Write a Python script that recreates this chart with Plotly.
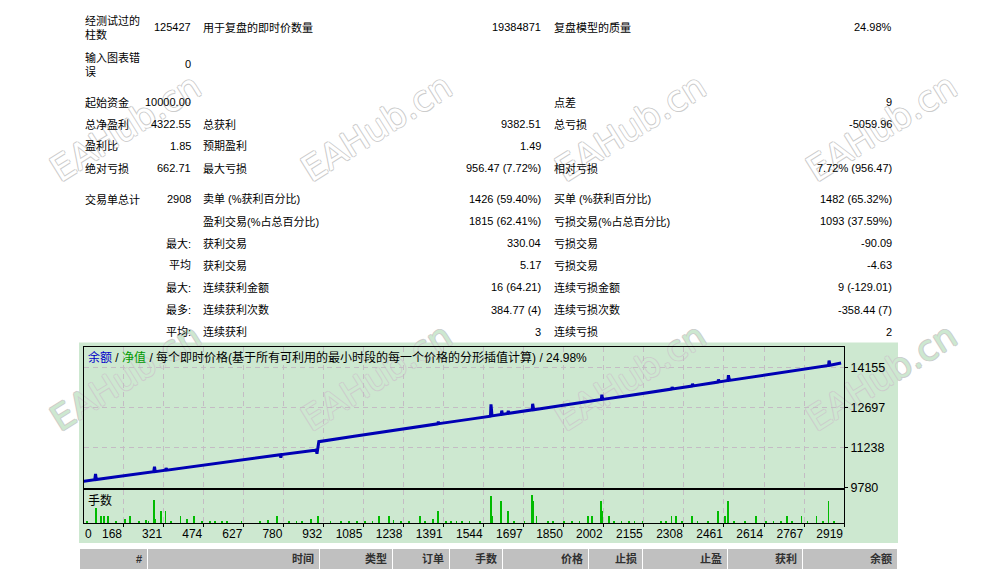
import plotly.graph_objects as go

W, H = 988, 575
FIG_H = 583  # page height used for the figure; positions below are in 575-px design units

# ---- report table (text) ----
report_rows = [
    ["经测试过的<br>柱数", "125427", "用于复盘的即时价数量", "19384871", "复盘模型的质量", "24.98%"],
    ["输入图表错<br>误", "0", "", "", "", ""],
    ["起始资金", "10000.00", "", "", "点差", "9"],
    ["总净盈利", "4322.55", "总获利", "9382.51", "总亏损", "-5059.96"],
    ["盈利比", "1.85", "预期盈利", "1.49", "", ""],
    ["绝对亏损", "662.71", "最大亏损", "956.47 (7.72%)", "相对亏损", "7.72% (956.47)"],
    ["交易单总计", "2908", "卖单 (%获利百分比)", "1426 (59.40%)", "买单 (%获利百分比)", "1482 (65.32%)"],
    ["", "", "盈利交易(%占总百分比)", "1815 (62.41%)", "亏损交易(%占总百分比)", "1093 (37.59%)"],
    ["", "最大:", "获利交易", "330.04", "亏损交易", "-90.09"],
    ["", "平均", "获利交易", "5.17", "亏损交易", "-4.63"],
    ["", "最大:", "连续获利金额", "16 (64.21)", "连续亏损金额", "9 (-129.01)"],
    ["", "最多:", "连续获利次数", "384.77 (4)", "连续亏损次数", "-358.44 (7)"],
    ["", "平均:", "连续获利", "3", "连续亏损", "2"],
]

header_cols = ["#", "时间", "类型", "订单", "手数", "价格", "止损", "止盈", "获利", "余额"]

chart_title = ('<span style="color:#0000C8">余额</span> / '
               '<span style="color:#009900">净值</span> / '
               '每个即时价格(基于所有可利用的最小时段的每一个价格的分形插值计算) / 24.98%')

# ---- balance curve (trade number, balance) ----
bal_trade = [0, 60, 63, 66, 150, 285, 288, 291, 330, 332, 335, 450, 600, 750, 768, 770, 773,
             900, 905, 908, 911, 915, 1050, 1200, 1350, 1369, 1371, 1373, 1500, 1570, 1572, 1576,
             1611, 1613, 1616, 1636, 1638, 1641, 1729, 1731, 1735, 1800, 1950, 1993, 1995, 1998,
             2100, 2250, 2261, 2263, 2266, 2339, 2341, 2344, 2400, 2438, 2440, 2443, 2476, 2478,
             2482, 2550, 2700, 2850, 2860, 2862, 2866, 2908]
bal_value = [10000, 10075, 10290, 10080, 10190, 10365, 10545, 10370, 10420, 10500, 10425, 10580,
             10770, 10960, 10985, 10880, 10990, 11150, 11160, 11020, 11170, 11460, 11655, 11870,
             12085, 12110, 12190, 12115, 12290, 12390, 12820, 12400, 12450, 12590, 12455, 12490,
             12580, 12495, 12620, 12840, 12625, 12720, 12935, 12995, 13170, 13000, 13145, 13360,
             13375, 13450, 13380, 13485, 13570, 13490, 13575, 13630, 13720, 13635, 13685, 13880,
             13690, 13790, 14005, 14220, 14235, 14410, 14240, 14322]

# ---- lots per trade ----
lot_trade = [66, 85, 96, 111, 175, 196, 285, 290, 312, 330, 387, 413, 438, 754, 886, 913, 1146,
             1184, 1301, 1352, 1369, 1572, 1576, 1611, 1636, 1729, 1733, 1746, 1942, 1958, 1993,
             1995, 2022, 2261, 2279, 2339, 2438, 2464, 2476, 2583, 2701, 2757, 2814, 2860,
             30, 140, 230, 255, 265, 350, 470, 500, 520, 545, 565, 620, 690, 720, 800, 830, 850,
             960, 1000, 1030, 1060, 1090, 1120, 1200, 1230, 1260, 1320, 1400, 1420, 1440, 1460,
             1490, 1530, 1660, 1700, 1790, 1810, 1850, 1880, 1910, 2040, 2070, 2100, 2120, 2150,
             2220, 2240, 2300, 2360, 2400, 2500, 2540, 2620, 2650, 2680, 2720, 2780, 2840, 2880]
lot_size = [0.28, 0.12, 0.12, 0.12, 0.07, 0.12, 0.42, 0.07, 0.22, 0.22, 0.12, 0.07, 0.12, 0.12,
            0.07, 0.12, 0.12, 0.12, 0.12, 0.07, 0.22, 0.50, 0.12, 0.40, 0.22, 0.51, 0.40, 0.12,
            0.12, 0.12, 0.40, 0.22, 0.12, 0.12, 0.12, 0.12, 0.22, 0.12, 0.40, 0.12, 0.12, 0.12,
            0.12, 0.40,
            0.04, 0.04, 0.03, 0.05, 0.04, 0.03, 0.04, 0.03, 0.04, 0.03, 0.04, 0.04, 0.03, 0.05,
            0.04, 0.03, 0.04, 0.04, 0.03, 0.04, 0.04, 0.03, 0.04, 0.05, 0.03, 0.04, 0.04, 0.03,
            0.04, 0.04, 0.03, 0.04, 0.04, 0.03, 0.04, 0.04, 0.03, 0.04, 0.04, 0.03, 0.04, 0.04,
            0.03, 0.04, 0.04, 0.03, 0.04, 0.04, 0.03, 0.04, 0.04, 0.03, 0.04, 0.04, 0.03, 0.04,
            0.04, 0.03, 0.04]

x_tick_labels = ["0", "168", "321", "474", "627", "780", "932", "1085", "1238", "1391", "1544",
                 "1697", "1850", "2002", "2155", "2308", "2461", "2614", "2767", "2919"]
y_tick_labels = ["9780", "11238", "12697", "14155"]


def px(x):
    return x / W


def py(y):
    return 1 - y / H


FONT = "Liberation Sans, Noto Sans CJK SC, sans-serif"
BG_GREEN = "#CDE8D0"
GRID = "#C4BCC4"

fig = go.Figure()
fig.add_trace(go.Scatter(x=bal_trade, y=bal_value, mode="lines", xaxis="x", yaxis="y",
                         line=dict(color="#0000B4", width=3), hoverinfo="skip"))
fig.add_trace(go.Bar(x=lot_trade, y=lot_size, xaxis="x2", yaxis="y2", width=3,
                     marker=dict(color="#00BB00", line=dict(width=0)), hoverinfo="skip"))

x_vals = [int(v) for v in x_tick_labels]
x_range = [19, 2919]
common_x = dict(range=x_range, domain=[px(84), px(844)], showgrid=True, gridcolor=GRID,
                griddash="5px,4px", gridwidth=1, zeroline=False, showline=True, mirror=True,
                linecolor="black", linewidth=1)

fig.update_layout(
    width=W, height=FIG_H, margin=dict(l=0, r=0, t=0, b=0),
    paper_bgcolor="white", plot_bgcolor="rgba(0,0,0,0)",
    showlegend=False, bargap=0,
    font=dict(family=FONT, size=11, color="black"),
    xaxis=dict(anchor="y", tickvals=x_vals[1:], showticklabels=False, ticks="", **common_x),
    yaxis=dict(anchor="x", domain=[py(487), py(346)], range=[9780, 14921], side="right",
               tickvals=[int(v) for v in y_tick_labels], ticktext=y_tick_labels,
               ticks="outside", ticklen=3, tickcolor="black",
               tickfont=dict(size=12.5, family=FONT), showgrid=True, gridcolor=GRID,
               griddash="5px,4px", zeroline=False, showline=True, mirror=True,
               linecolor="black", linewidth=1),
    xaxis2=dict(anchor="y2", tickvals=x_vals[1:], ticktext=x_tick_labels[1:],
                ticklabelposition="outside left", ticks="outside", ticklen=3,
                tickcolor="black", tickfont=dict(size=12, family=FONT), **common_x),
    yaxis2=dict(anchor="x2", domain=[py(522), py(489)], range=[0, 0.6], showticklabels=False,
                ticks="", showgrid=False, zeroline=False, showline=True, mirror=True,
                linecolor="black", linewidth=1),
)

shapes = []
# green chart panel
shapes.append(dict(type="rect", xref="paper", yref="paper", x0=px(79), x1=px(898),
                   y0=py(542), y1=py(342), fillcolor=BG_GREEN, line=dict(width=0),
                   layer="below"))

# watermarks (hollow text)
wm_x = [124, 375, 629, 880]
wm_y = [125, 374]
for j, cy in enumerate(wm_y):
    fill = BG_GREEN if j == 1 else "white"
    for cx in wm_x:
        shapes.append(dict(
            type="rect", xref="paper", yref="paper", x0=px(cx - 1), x1=px(cx + 1),
            y0=py(cy + 1), y1=py(cy - 1), line=dict(width=0), fillcolor="rgba(0,0,0,0)",
            layer="below",
            label=dict(text="EAHub.cn", textangle=-32, textposition="middle center",
                       font=dict(family="DejaVu Sans, sans-serif", size=35, color=fill,
                                 shadow="1px 0 0 #CCCCCC, -1px 0 0 #CCCCCC, "
                                        "0 1px 0 #CCCCCC, 0 -1px 0 #CCCCCC"))))

# deals table header
cell_edges = [80, 148, 320, 393, 450, 503, 589, 643, 728, 803, 898]
for i, name in enumerate(header_cols):
    shapes.append(dict(type="rect", xref="paper", yref="paper", x0=px(cell_edges[i]),
                       x1=px(cell_edges[i + 1] - 1), y0=py(568), y1=py(548),
                       fillcolor="#C0C0C0", line=dict(width=0), layer="below"))
fig.update_layout(shapes=shapes)

ann = []
col_x = [83, 193, 201, 543, 552, 894]
col_anchor = ["left", "right", "left", "right", "left", "right"]
row_y = [27, 64, 102, 124, 146, 168, 199, 221, 243, 265, 287, 309, 331]
for r, row in enumerate(report_rows):
    for c, txt in enumerate(row):
        if not txt:
            continue
        ann.append(dict(text=txt, x=px(col_x[c]), y=py(row_y[r]), xref="paper", yref="paper",
                        xanchor=col_anchor[c], yanchor="middle", showarrow=False,
                        align="left", font=dict(size=11, family=FONT)))

for i, name in enumerate(header_cols):
    ann.append(dict(text="<b>%s</b>" % name, x=px(cell_edges[i + 1] - 4), y=py(558),
                    xref="paper", yref="paper", xanchor="right", yanchor="middle",
                    showarrow=False, font=dict(size=11, family=FONT, color="#303030")))

ann.append(dict(text=chart_title, x=px(86), y=py(357), xref="paper", yref="paper",
                xanchor="left", yanchor="middle", showarrow=False,
                font=dict(size=12, family=FONT)))
ann.append(dict(text="手数", x=px(86), y=py(500), xref="paper", yref="paper",
                xanchor="left", yanchor="middle", showarrow=False,
                font=dict(size=12, family=FONT)))
ann.append(dict(text=x_tick_labels[0], x=px(83), y=py(533), xref="paper", yref="paper",
                xanchor="left", yanchor="middle", showarrow=False,
                font=dict(size=12, family=FONT)))
fig.update_layout(annotations=ann)

fig.write_html("out.html", config={"displayModeBar": False},
               post_script="document.body.style.margin='0';"
                           "document.documentElement.style.overflow='hidden';"
                           "document.body.style.overflow='hidden';")
